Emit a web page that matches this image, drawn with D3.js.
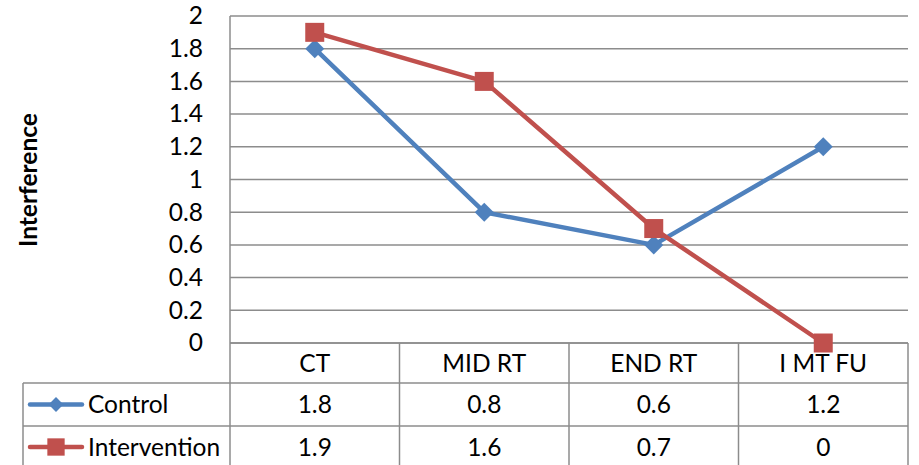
<!DOCTYPE html>
<html><head><meta charset="utf-8">
<script src="https://cdn.jsdelivr.net/npm/d3@7"></script>
<style>body{margin:0;background:#fff;} svg{display:block;font-family:Lato, "Open Sans", sans-serif;}</style>
</head><body>
<svg id="c" width="919" height="465"></svg>
<script>
const categories = ["CT", "MID RT", "END RT", "I MT FU"];
const controlValues = [1.8, 0.8, 0.6, 1.2];
const interventionValues = [1.9, 1.6, 0.7, 0];
const seriesNames = ["Control", "Intervention"];
const yTicks = [0, 0.2, 0.4, 0.6, 0.8, 1, 1.2, 1.4, 1.6, 1.8, 2];
const colors = ["#4F81BD", "#C0504D"];

const svg = d3.select("#c");
const L = 230, R = 908, T = 16, B = 343;
const rowH = [B, 383, 426, 468];
const tableLeft = 23;
const grid = "#8c8c8c";
const fs = 24.5;

const x = d3.scaleBand().domain(categories).range([L, R]);
const y = d3.scaleLinear().domain([0, 2]).range([B, T]);

// gridlines
svg.append("g").selectAll("line").data(yTicks).join("line")
  .attr("x1", L).attr("x2", R).attr("y1", d => y(d)).attr("y2", d => y(d))
  .attr("stroke", grid).attr("stroke-width", 1.5);
// left axis line
svg.append("line").attr("x1", L).attr("x2", L).attr("y1", T).attr("y2", rowH[3])
  .attr("stroke", grid).attr("stroke-width", 1.5);

// y tick labels via axis
const yAxis = d3.axisLeft(y).tickValues(yTicks).tickSize(0).tickPadding(27)
  .tickFormat(d => d3.format("~g")(d));
const ya = svg.append("g").attr("transform", `translate(${L},0)`).call(yAxis);
ya.select(".domain").remove();
ya.selectAll("text").attr("font-size", fs).attr("fill", "#000")
  .attr("font-family", "Lato, sans-serif");

// y label
svg.append("text").attr("transform", "translate(37,180) rotate(-90)")
  .attr("text-anchor", "middle").attr("font-weight", "bold").attr("font-size", fs)
  .text("Interference");

// table lines
const tg = svg.append("g").attr("stroke", grid).attr("stroke-width", 1.5);
tg.append("line").attr("x1", L).attr("x2", R).attr("y1", rowH[0]).attr("y2", rowH[0]);
tg.append("line").attr("x1", tableLeft).attr("x2", R).attr("y1", rowH[1]).attr("y2", rowH[1]);
tg.append("line").attr("x1", tableLeft).attr("x2", R).attr("y1", rowH[2]).attr("y2", rowH[2]);
tg.append("line").attr("x1", tableLeft).attr("x2", tableLeft).attr("y1", rowH[1]).attr("y2", rowH[3]);
categories.forEach(c => {
  const xe = x(c) + x.bandwidth();
  tg.append("line").attr("x1", xe).attr("x2", xe).attr("y1", rowH[0]).attr("y2", rowH[3]);
});

// header labels
svg.append("g").selectAll("text").data(categories).join("text")
  .attr("x", d => x(d) + x.bandwidth() / 2).attr("y", (rowH[0] + rowH[1]) / 2)
  .attr("dy", "0.35em")
  .attr("text-anchor", "middle").attr("font-size", fs).text(d => d);

const diamond = d3.symbol(d3.symbolSquare, 180)();
const seriesData = [controlValues, interventionValues];
seriesData.forEach((vals, i) => {
  const cy = (rowH[i + 1] + rowH[i + 2]) / 2;
  svg.append("g").selectAll("text").data(vals).join("text")
    .attr("x", (d, j) => x(categories[j]) + x.bandwidth() / 2).attr("y", cy).attr("dy", "0.35em")
    .attr("text-anchor", "middle").attr("font-size", fs).text(d => d3.format("~g")(d));
  // legend key
  svg.append("line").attr("x1", 30).attr("x2", 82).attr("y1", cy).attr("y2", cy)
    .attr("stroke", colors[i]).attr("stroke-width", 4.5).attr("stroke-linecap", "round");
  if (i === 0) {
    svg.append("path").attr("d", d3.symbol(d3.symbolSquare, 110)())
      .attr("transform", `translate(56,${cy}) rotate(45)`).attr("fill", colors[i]);
  } else {
    svg.append("path").attr("d", d3.symbol(d3.symbolSquare, 300)())
      .attr("transform", `translate(56,${cy})`).attr("fill", colors[i]);
  }
  svg.append("text").attr("x", 88).attr("y", cy).attr("dy", "0.35em").attr("font-size", fs).text(seriesNames[i]);
});

// lines and markers
const cx = j => x(categories[j]) + x.bandwidth() / 2;
const line = d3.line().x((d, j) => cx(j)).y(d => y(d));
seriesData.forEach((vals, i) => {
  svg.append("path").datum(vals).attr("d", line).attr("fill", "none")
    .attr("stroke", colors[i]).attr("stroke-width", 4.5).attr("stroke-linejoin", "round");
});
seriesData.forEach((vals, i) => {
  svg.append("g").selectAll("path").data(vals).join("path")
    .attr("d", i === 0 ? diamond : d3.symbol(d3.symbolSquare, 361)())
    .attr("transform", (d, j) => `translate(${cx(j)},${y(d)})` + (i === 0 ? " rotate(45)" : ""))
    .attr("fill", colors[i]);
});
</script>
</body></html>
